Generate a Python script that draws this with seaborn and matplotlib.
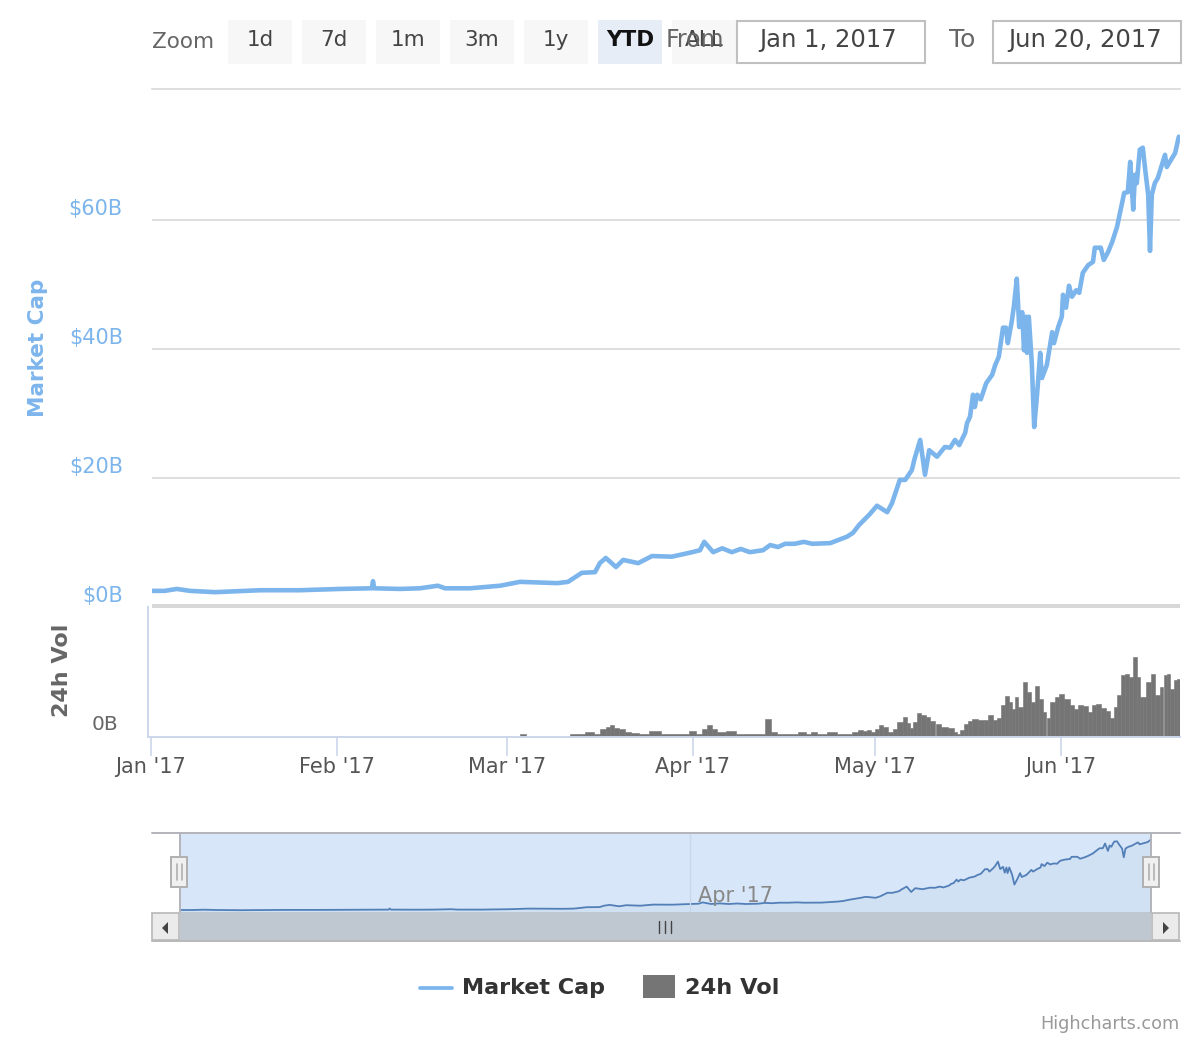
import matplotlib
matplotlib.use("Agg")
import matplotlib.pyplot as plt
from matplotlib.patches import Rectangle, Polygon
from matplotlib.transforms import ScaledTranslation
import numpy as np
import seaborn as sns

sns.set_theme(style="white")
plt.rcParams["font.family"] = ["DejaVu Sans"]

# day offset from 1 Jan 2017 / market cap in $B
cap_days = [0.2, 2.3, 4.3, 6.5, 10.7, 18.2, 24.8, 31.5, 36.8, 37.0, 37.2, 41.5, 44.8, 47.8, 49.0, 53.2, 58.2,
            61.5, 67.7, 69.5, 71.8, 74.0, 74.8, 75.8, 77.5, 78.7, 81.2, 83.5, 86.8, 90.2, 91.5, 92.2, 93.7,
            95.2, 96.8, 98.3, 99.8, 102.0, 103.2, 104.5, 105.7, 107.3, 108.8, 110.2, 113.2, 116.0, 117.0,
            118.0, 119.8, 121.0, 122.7, 123.5, 124.8, 125.7, 126.8, 127.3, 128.2, 129.0, 129.7, 131.0,
            132.3, 133.2, 134.0, 134.7, 135.7, 136.0, 136.5, 137.0, 137.3, 137.7, 138.3, 139.2, 140.2,
            140.7, 141.3, 142.0, 142.5, 142.8, 143.5, 143.8, 144.3, 144.7, 145.2, 145.5, 145.8, 146.0,
            146.3, 146.8, 147.2, 147.7, 148.2, 148.5, 149.3, 150.2, 150.5, 151.2, 151.8, 152.0, 152.5,
            153.0, 153.5, 154.2, 154.7, 155.3, 156.2, 157.0, 157.3, 158.3, 158.8, 159.5, 160.2, 161.0,
            162.2, 162.8, 163.2, 163.7, 164.0, 164.3, 164.8, 165.3, 165.7, 166.2, 166.5, 166.8, 167.3,
            167.8, 169.0, 169.3, 169.8, 170.7, 171.3]
cap_values = [2.5, 2.5, 2.8, 2.5, 2.3, 2.6, 2.6, 2.8, 2.9, 4.0, 2.9, 2.8, 2.9, 3.3, 2.9, 2.9, 3.3,
              3.9, 3.7, 3.9, 5.3, 5.4, 6.8, 7.6, 6.2, 7.3, 6.8, 7.9, 7.8, 8.5, 8.8, 10.1, 8.5,
              9.1, 8.5, 9.0, 8.5, 8.8, 9.6, 9.3, 9.8, 9.8, 10.1, 9.8, 9.9, 10.9, 11.5,
              12.7, 14.4, 15.7, 14.7, 16.1, 19.7, 19.7, 21.2, 23.1, 25.9, 20.5, 24.3, 23.3,
              24.8, 24.7, 25.9, 25.1, 27.0, 28.5, 29.5, 32.9, 31.0, 32.9, 32.2, 34.7, 36.0,
              37.5, 38.8, 43.3, 43.3, 40.9, 44.5, 46.5, 50.9, 43.4, 45.7, 39.8, 45.0, 39.4,
              45.0, 37.8, 27.9, 33.2, 39.4, 35.5, 37.5, 42.6, 40.9, 43.4, 45.0, 48.4, 46.4,
              49.8, 48.1, 49.1, 48.7, 51.8, 53.0, 53.5, 55.7, 55.7, 53.8, 55.0, 56.6, 58.9,
              64.2, 64.3, 69.0, 61.6, 67.0, 65.7, 70.9, 71.2, 67.8, 63.9, 55.2, 63.9, 65.7,
              66.5, 70.1, 68.2, 69.0, 70.4, 72.9]

# day offset / 24h volume (arbitrary $10M units)
vol_days = [0, 61, 62, 63, 69.5, 70, 71.5, 73, 74.5, 75.3, 76.2, 76.7, 77.5, 78.5, 79.5, 80.5, 82, 84, 86, 89,
            90.3, 91.5, 92.3, 93, 94, 94.8, 96.7, 98.2, 100, 102, 102.8, 103.7, 105, 107, 108.8, 109.5,
            110.5, 111.5, 113.8, 114.8, 116.5, 117.3, 118.2, 119, 119.7, 120.3, 121, 121.8, 122.3, 123.2,
            124, 124.8, 125.7, 126.2, 126.8, 127.3, 128, 128.7, 129.5, 130.3, 131.2, 132, 133.5, 134,
            134.5, 135.2, 135.8, 136.5, 137.3, 138.5, 139.2, 139.8, 140.7, 141.3, 142, 142.7, 143.2,
            143.7, 144.3, 144.8, 145.7, 146.2, 147, 147.7, 148.3, 149, 149.5, 150.3, 151, 151.7, 152.7,
            153.5, 154, 155, 155.7, 156.5, 157.3, 157.8, 158.7, 159.5, 160.3, 160.8, 161.3, 162, 162.7,
            163.2, 164, 164.5, 165.2, 165.5, 166.2, 167, 167.8, 168.5, 169, 169.5, 170.2, 170.8, 171.3]
vol_values = [0, 0, 2.5, 0, 0, 2.5, 2.5, 4.5, 3, 8, 10, 12, 9, 8, 5, 3.5, 2.5, 6, 2.5, 2.5,
              6, 3, 8, 12, 8, 5, 6, 3, 2.5, 2.5, 18, 4.5, 2.5, 2.5, 4.5, 2.5,
              4.5, 2.5, 4.5, 2.5, 3, 5, 7, 6, 7, 5, 8, 12, 10, 5,
              8, 15, 20, 14, 9, 15, 24, 22, 20, 16, 13, 10, 9, 5,
              2.5, 7, 13, 16, 18, 17, 17, 22, 17, 19, 32, 41, 35,
              28, 40, 30, 55, 45, 35, 51, 38, 25, 19, 35, 40, 43, 38,
              32, 28, 32, 31, 25, 32, 33, 29, 26, 19, 30, 42, 62, 63,
              60, 80, 60, 40, 40, 55, 63, 42, 50, 62, 63, 48, 57, 58]

# month starts on the same read-off day scale as the arrays above
month_days = [0, 31, 59.33, 90.33, 120.67, 151.67]
month_labels = ["Jan '17", "Feb '17", "Mar '17", "Apr '17", "May '17", "Jun '17"]
cap_ticks = [0, 20, 40, 60]
cap_labels = ["$0B", "$20B", "$40B", "$60B"]
range_labels = ["1d", "7d", "1m", "3m", "1y", "YTD", "ALL"]

BLUE = "#7cb5ec"
GRID = "#d8d8d8"
AXIS = "#ccd6eb"
W, H = 1200, 1040

fig = plt.figure(figsize=(12, 10.4), dpi=100, facecolor="white")

def axes_px(x0, y0, x1, y1):
    return fig.add_axes([x0 / W, 1 - y1 / H, (x1 - x0) / W, (y1 - y0) / H])

# ---- main panel
ax = axes_px(152, 89, 1180, 607)
sns.lineplot(x=cap_days, y=cap_values, ax=ax, color=BLUE, linewidth=3.3, sort=False,
             estimator=None, errorbar=None, legend=False, zorder=3)
ax.set_xlim(1 / 6, 171.5)
ax.set_ylim(0, 80.3)
ax.set_xticks([])
ax.set_yticks(cap_ticks)
ax.set_yticklabels(cap_labels)
ax.grid(axis="y", color=GRID, linewidth=1.2)
ax.set_axisbelow(True)
for s in ["left", "right", "bottom"]:
    ax.spines[s].set_visible(False)
ax.spines["top"].set_color(GRID)
ax.spines["top"].set_linewidth(1.2)
ax.tick_params(axis="y", length=0, pad=21, labelsize=15, labelcolor=BLUE)
off = ScaledTranslation(0, 0.5 / 72, fig.dpi_scale_trans)
for t in ax.get_yticklabels():
    t.set_va("bottom")
    t.set_transform(t.get_transform() + off)
ax.set_ylabel("")

# ---- volume panel
vax = axes_px(148, 607, 1180, 736.5)
d = np.asarray(vol_days, dtype=float)
mid = (d[:-1] + d[1:]) / 2
edges = [float(e) for e in np.concatenate([[d[0]], mid, [171.5]])]
sns.histplot(x=vol_days, weights=vol_values, bins=edges, ax=vax, color="#757575", alpha=1,
             edgecolor="#757575", linewidth=0.4, stat="count", legend=False)
vax.set_xlim(-0.5, 171.5)
vax.set_ylim(0, 129.5)
vax.set_yticks([])
vax.set_ylabel("")
vax.set_xlabel("")
vax.set_xticks(month_days)
vax.set_xticklabels(month_labels)
vax.tick_params(axis="x", length=14, width=1.2, color=AXIS, labelsize=15, labelcolor="#555555", pad=1, bottom=True)
for s in ["top", "right"]:
    vax.spines[s].set_visible(False)
for s in ["left", "bottom"]:
    vax.spines[s].set_color(AXIS)
    vax.spines[s].set_linewidth(1.4)

# ---- navigator
nax = axes_px(180, 833, 1151, 912.5)
nax.set_facecolor("#d7e6f8")
nax.fill_between(cap_days, cap_values, 0, color="#4572a7", alpha=0.04, linewidth=0)
sns.lineplot(x=cap_days, y=cap_values, ax=nax, color="#527fb8", linewidth=1.3, sort=False,
             estimator=None, errorbar=None, legend=False)
nax.axvline(90, color="#c9d8e8", linewidth=1)
nax.set_xlim(0, 171.3)
nax.set_ylim(0, 79.5)
nax.set_xticks([])
nax.set_yticks([])
nax.set_ylabel("")
for s in nax.spines.values():
    s.set_visible(False)

# ---- overlay in pixel coordinates: range selector, scrollbar, legend
ov = fig.add_axes([0, 0, 1, 1], facecolor="none")
ov.set_xlim(0, W)
ov.set_ylim(H, 0)
ov.axis("off")

ov.add_patch(Rectangle((152, 604), 1028, 4, color=GRID, lw=0))

ov.text(152, 42, "Zoom", fontsize=15.5, color="#666666", va="center", ha="left")
for i, lab in enumerate(range_labels):
    x0 = [228, 302, 376, 450, 524, 598, 672][i]
    sel = lab == "YTD"
    ov.add_patch(Rectangle((x0, 20), 64, 44, color="#e6edf7" if sel else "#f7f7f7", lw=0))
    ov.text(x0 + 32, 40, lab, fontsize=15.5, color="#111111" if sel else "#444444",
            weight="bold" if sel else "normal", ha="center", va="center", zorder=5)
ov.text(724, 40, "From", fontsize=17, color="#666666", ha="right", va="center", zorder=5)
for x0, x1, cx, lab in [(737, 925, 828, "Jan 1, 2017"), (993, 1181, 1085.5, "Jun 20, 2017")]:
    ov.add_patch(Rectangle((x0, 21), x1 - x0, 42, facecolor="white", edgecolor="#c0c0c0", lw=1.5))
    ov.text(cx, 40, lab, fontsize=17.5, color="#444444", ha="center", va="center")
ov.text(949, 40, "To", fontsize=18, color="#666666", ha="left", va="center")

ov.text(38, 348, "Market Cap", rotation=90, fontsize=15.5, color=BLUE, weight="bold", ha="center", va="center")
ov.text(62, 670, "24h Vol", rotation=90, fontsize=16, color="#666666", weight="bold", ha="center", va="center")
ov.text(118, 724, "0B", fontsize=14.5, color="#666666", ha="right", va="center")

# navigator frame
ov.plot([152, 1180], [833, 833], color="#b3b3bb", lw=1.4)
ov.plot([180, 180], [833, 912], color="#b3b3bb", lw=1.4)
ov.plot([1151, 1151], [833, 912], color="#b3b3bb", lw=1.4)
ov.text(735, 896, month_labels[3], fontsize=15, color="#888888", ha="center", va="center")

# scrollbar
ov.add_patch(Rectangle((180, 912), 971, 28, color="#bfc7d0", lw=0))
ov.plot([152, 1180], [941, 941], color="#b8b8b8", lw=1.4)
for x0, pts in [(152, [(168, 922), (168, 934), (162, 928)]), (1152, [(1163, 922), (1163, 934), (1169, 928)])]:
    ov.add_patch(Rectangle((x0, 913), 27, 27, facecolor="#ebebeb", edgecolor="#b8b8b8", lw=1.2))
    ov.add_patch(Polygon(pts, closed=True, color="#444444", lw=0))
for x in [659, 665, 671]:
    ov.plot([x, x], [921, 933], color="#444444", lw=1)
for cx in [179, 1151]:
    ov.add_patch(Rectangle((cx - 8, 857), 16, 30, facecolor="#f0f0f0", edgecolor="#b0b0b0", lw=1.4, zorder=6))
    for dx in [-2.5, 2.5]:
        ov.plot([cx + dx, cx + dx], [864, 880], color="#b0b0b0", lw=1.2, zorder=7)

# legend
ov.plot([420, 452], [988, 988], color=BLUE, lw=2.7)
ov.text(462, 988, "Market Cap", fontsize=16, weight="bold", color="#333333", ha="left", va="center")
ov.add_patch(Rectangle((643, 975), 32, 23, color="#757575", lw=0))
ov.text(685, 988, "24h Vol", fontsize=16.2, weight="bold", color="#333333", ha="left", va="center")
ov.text(1180, 1024, "Highcharts.com", fontsize=12.7, color="#999999", ha="right", va="center")

fig.savefig("out.png", dpi=100, facecolor="white")
